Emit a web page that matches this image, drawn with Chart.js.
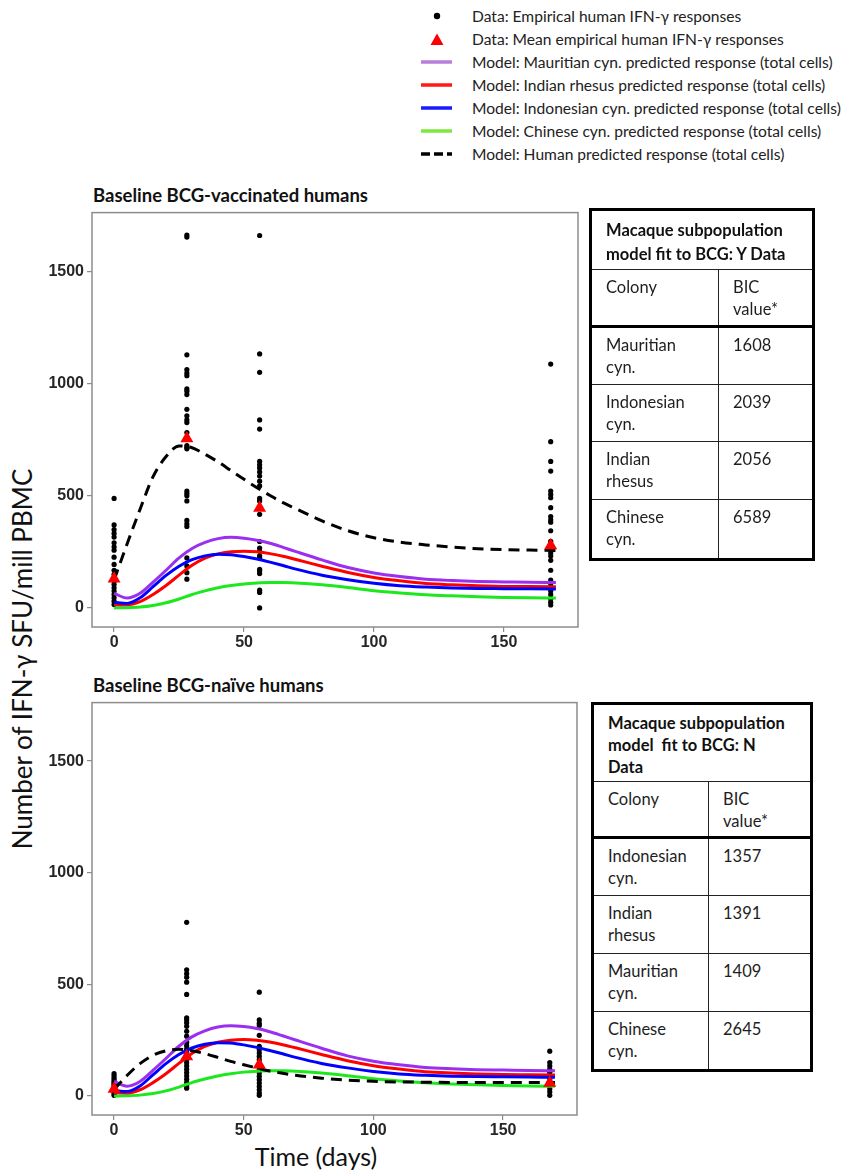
<!DOCTYPE html>
<html><head><meta charset="utf-8">
<script src="https://cdn.jsdelivr.net/npm/chart.js@4.4.1/dist/chart.umd.min.js"></script>
<style>
body{margin:0;background:#fff;width:844px;height:1173px;position:relative;overflow:hidden;font-family:Lato,"Open Sans",sans-serif;color:#1e1e1e}
.abs{position:absolute}
.leg{position:absolute;left:472px;font-size:15.6px;line-height:18px;white-space:nowrap;color:#222}
.ptitle{position:absolute;left:93px;font-weight:bold;font-size:18.5px;line-height:22px;white-space:nowrap;color:#111}
table.bic{position:absolute;border-collapse:collapse;border:3.5px solid #000;font-size:16.5px;color:#1e1e1e}
table.bic td{border:1.6px solid #222;vertical-align:top;padding:6px 4px 0 14px;line-height:22px;white-space:nowrap}
table.bic td.h{font-weight:bold;color:#111}
table.bic tr.thick td{border-bottom:3.5px solid #000}
</style></head>
<body>
<div id="legend"></div>
<div class="ptitle" style="top:184px">Baseline BCG-vaccinated humans</div>
<div class="ptitle" style="top:674px">Baseline BCG-naïve humans</div>
<div class="abs" style="left:22px;top:659px;transform:translate(-50%,-50%) rotate(-90deg);font-size:26px;white-space:nowrap;color:#111">Number of IFN-γ SFU/mill PBMC</div>
<div class="abs" style="left:316px;top:1156px;transform:translate(-50%,-50%);font-size:25px;white-space:nowrap;color:#111">Time (days)</div>
<canvas id="c1" class="abs" style="left:0;top:200px" width="590" height="470"></canvas>
<canvas id="c2" class="abs" style="left:0;top:690px" width="590" height="470"></canvas>
<div id="tables"></div>
<script>
// ---------- data ----------
const dataDays = [0, 28, 56, 168];
// BCG-vaccinated (Y) individual responses
const vacDay0   = [488, 370, 349, 332, 316, 290, 272, 257, 226, 194, 168, 150, 135, 120, 105, 90, 75, 60, 45, 30, 15];
const vacDay28  = [1662, 1653, 1128, 1062, 1047, 1035, 976, 966, 951, 885, 856, 838, 826, 782, 724, 716, 709, 521, 510, 500, 477, 390, 375, 363, 223, 187, 157, 128];
const vacDay56  = [1660, 1132, 1050, 838, 797, 653, 638, 624, 606, 588, 565, 544, 488, 477, 417, 296, 267, 253, 232, 223, 172, 165, 153, 79, 69, 0];
const vacDay168 = [1087, 741, 653, 610, 521, 506, 491, 447, 407, 393, 382, 344, 297, 245, 231, 212, 168, 124, 109, 94, 76, 59, 40, 25, 13];
const vacMeans  = [130, 755, 445, 278];
// BCG-naive (N) individual responses
const naiDay0   = [100, 90, 80, 70, 62, 55, 48, 40, 32, 25, 18, 10, 3];
const naiDay28  = [778, 565, 548, 532, 510, 455, 350, 340, 328, 312, 290, 268, 240, 225, 210, 195, 180, 165, 150, 135, 120, 105, 90, 75, 60, 45, 35];
const naiDay56  = [465, 341, 326, 316, 272, 223, 208, 193, 178, 163, 148, 133, 118, 103, 88, 73, 58, 43, 28, 13, 3];
const naiDay168 = [201, 150, 135, 120, 106, 91, 76, 62, 47, 32, 18, 3];
const naiMeans  = [32, 177, 140, 58];
// model predictions
const modelDays  = [0, 5, 10, 15, 20, 25, 30, 35, 40, 45, 50, 55, 60, 65, 70, 80, 90, 100, 110, 120, 130, 140, 150, 160, 170];
const mauritian  = [65, 44, 65, 115, 168, 223, 265, 292, 309, 315, 311, 302, 288, 270, 251, 214, 180, 156, 140, 128, 122, 118, 116, 114, 113];
const indianRh   = [15, 14, 28, 60, 100, 146, 190, 222, 241, 250, 253, 250, 242, 230, 216, 186, 158, 136, 121, 109, 103, 99, 96, 95, 94];
const indonesian = [25, 20, 45, 95, 145, 186, 215, 232, 239, 237, 229, 218, 204, 189, 173, 146, 126, 110, 99, 93, 89, 87, 86, 85, 84];
const chinese    = [0, 1, 4, 11, 23, 40, 60, 76, 90, 100, 107, 111, 113, 113, 111, 103, 91, 77, 67, 59, 54, 50, 47, 45, 44];
const humanVac   = [125, 285, 440, 585, 675, 722, 714, 685, 651, 612, 573, 536, 501, 469, 442, 388, 344, 313, 293, 281, 271, 264, 260, 258, 256];
const humanNai   = [30, 92, 145, 182, 202, 209, 203, 190, 173, 155, 140, 126, 112, 102, 93, 80, 71, 66, 63, 62, 61, 60, 60, 60, 60];
// axes
const yTicks = [0, 500, 1000, 1500];
const xTicks = [0, 50, 100, 150];
// legend
const legendLabels = [
  'Data: Empirical human IFN-γ responses',
  'Data: Mean empirical human IFN-γ responses',
  'Model: Mauritian cyn. predicted response (total cells)',
  'Model: Indian rhesus predicted response (total cells)',
  'Model: Indonesian cyn. predicted response (total cells)',
  'Model: Chinese cyn. predicted response (total cells)',
  'Model: Human predicted response (total cells)'
];
// tables
const tableYTitle = ['Macaque subpopulation', 'model fit to BCG: Y Data'];
const tableYColony = [['Mauritian', 'cyn.'], ['Indonesian', 'cyn.'], ['Indian', 'rhesus'], ['Chinese', 'cyn.']];
const tableYBIC = [1608, 2039, 2056, 6589];
const tableNTitle = ['Macaque subpopulation', 'model&nbsp; fit to BCG: N', 'Data'];
const tableNColony = [['Indonesian', 'cyn.'], ['Indian', 'rhesus'], ['Mauritian', 'cyn.'], ['Chinese', 'cyn.']];
const tableNBIC = [1357, 1391, 1409, 2645];

// ---------- legend ----------
const legColors = ['#b77fdb', '#ff1a1a', '#1a1aff', '#7ee83d'];
const legTop = 15.5, legStep = 23;
let lh = '';
legendLabels.forEach((t, i) => {
  const cy = legTop + i * legStep;
  let sym = '';
  if (i === 0) sym = `<circle cx="16" cy="9" r="3.2" fill="#000"/>`;
  else if (i === 1) sym = `<polygon points="9.5,15 22.5,15 16,3.5" fill="#f00"/>`;
  else if (i < 6) sym = `<line x1="0" y1="9" x2="31" y2="9" stroke="${legColors[i-2]}" stroke-width="3.5"/>`;
  else sym = `<line x1="0" y1="9" x2="31" y2="9" stroke="#000" stroke-width="3.5" stroke-dasharray="9,4"/>`;
  lh += `<svg class="abs" style="left:421px;top:${cy-9}px" width="32" height="18">${sym}</svg>`;
  lh += `<div class="leg" style="top:${cy-9}px">${t}</div>`;
});
document.getElementById('legend').innerHTML = lh;

// ---------- tables ----------
function buildTable(left, top, w, col1, title, colonies, bics, hHead, hCol, hRows) {
  let s = `<table class="bic" style="left:${left}px;top:${top}px;width:${w}px;table-layout:fixed">`;
  s += `<colgroup><col style="width:${col1}px"><col></colgroup>`;
  s += `<tr style="height:${hHead}px"><td class="h" colspan="2" style="padding-top:7px;line-height:${title.length>2?22:24}px">${title.join('<br>')}</td></tr>`;
  s += `<tr class="thick" style="height:${hCol}px"><td>Colony</td><td>BIC<br>value*</td></tr>`;
  colonies.forEach((c, i) => {
    s += `<tr style="height:${hRows[i]}px"><td>${c.join('<br>')}</td><td>${bics[i]}</td></tr>`;
  });
  return s + '</table>';
}
document.getElementById('tables').innerHTML =
  buildTable(589, 208, 226, 128, tableYTitle, tableYColony, tableYBIC, 60, 57, [58, 57, 58, 60]) +
  buildTable(591, 702, 222, 116, tableNTitle, tableNColony, tableNBIC, 78, 56, [58, 58, 58, 59]);

// ---------- charts ----------
const framePlugin = {
  id: 'frame',
  beforeDatasetsDraw(chart) {
    const a = chart.chartArea, ctx = chart.ctx;
    ctx.save();
    ctx.strokeStyle = '#8c8c8c';
    ctx.lineWidth = 1.5;
    ctx.strokeRect(a.left, a.top, a.right - a.left, a.bottom - a.top);
    ctx.restore();
  }
};
const xy = (xs, ys) => xs.map((x, i) => ({x, y: ys[i]}));

function makeChart(id, cols, means, human, padRight, xAxisH) {
  const pts = [];
  dataDays.forEach((d, i) => cols[i].forEach(v => pts.push({x: d, y: v})));
  const model = (arr, col, order) => ({data: xy(modelDays, arr), showLine: true, borderColor: col, borderWidth: 3,
    pointRadius: 0, cubicInterpolationMode: 'monotone', order});
  return new Chart(document.getElementById(id), {
    type: 'scatter',
    data: {datasets: [
      {data: pts, pointRadius: 2.6, pointHoverRadius: 2.6, backgroundColor: '#000', borderWidth: 0, order: 10},
      model(chinese, '#1de81d', 6),
      model(indianRh, '#ff0000', 5),
      model(indonesian, '#0000ff', 4),
      model(mauritian, '#9a2ff0', 3),
      {data: xy(modelDays, human), showLine: true, borderColor: '#000', borderWidth: 3, borderDash: [11, 7],
        pointRadius: 0, cubicInterpolationMode: 'monotone', order: 2},
      {data: xy(dataDays, means), pointStyle: 'triangle', pointRadius: 7.5, pointHoverRadius: 7.5,
        backgroundColor: '#ff0000', borderColor: '#ff0000', borderWidth: 0, order: 1}
    ]},
    options: {
      responsive: false, animation: false, devicePixelRatio: 1,
      layout: {padding: {top: 8, right: padRight, left: 0, bottom: 0}},
      plugins: {legend: {display: false}, tooltip: {enabled: false}},
      scales: {
        x: {type: 'linear', min: -8.5, max: 178.5,
          afterBuildTicks: s => { s.ticks = xTicks.map(v => ({value: v})); },
          afterFit: s => { s.height = xAxisH; },
          grid: {drawOnChartArea: false, drawTicks: true, tickLength: 5, color: '#8c8c8c', lineWidth: 1.2},
          border: {display: false},
          ticks: {color: '#262626', padding: 1, callback: v => String(v),
            font: {family: 'Liberation Sans', weight: 'bold', size: 16}}},
        y: {type: 'linear', min: -85, max: 1762,
          afterBuildTicks: s => { s.ticks = yTicks.map(v => ({value: v})); },
          afterFit: s => { s.width = 92; },
          grid: {drawOnChartArea: false, drawTicks: true, tickLength: 5, color: '#8c8c8c', lineWidth: 1.2},
          border: {display: false},
          ticks: {color: '#262626', padding: 3, callback: v => String(v),
            font: {family: 'Liberation Sans', weight: 'bold', size: 16}}}
      }
    },
    plugins: [framePlugin]
  });
}
makeChart('c1', [vacDay0, vacDay28, vacDay56, vacDay168], vacMeans, humanVac, 12, 43);
makeChart('c2', [naiDay0, naiDay28, naiDay56, naiDay168], naiMeans, humanNai, 13, 45);
</script>
</body></html>
